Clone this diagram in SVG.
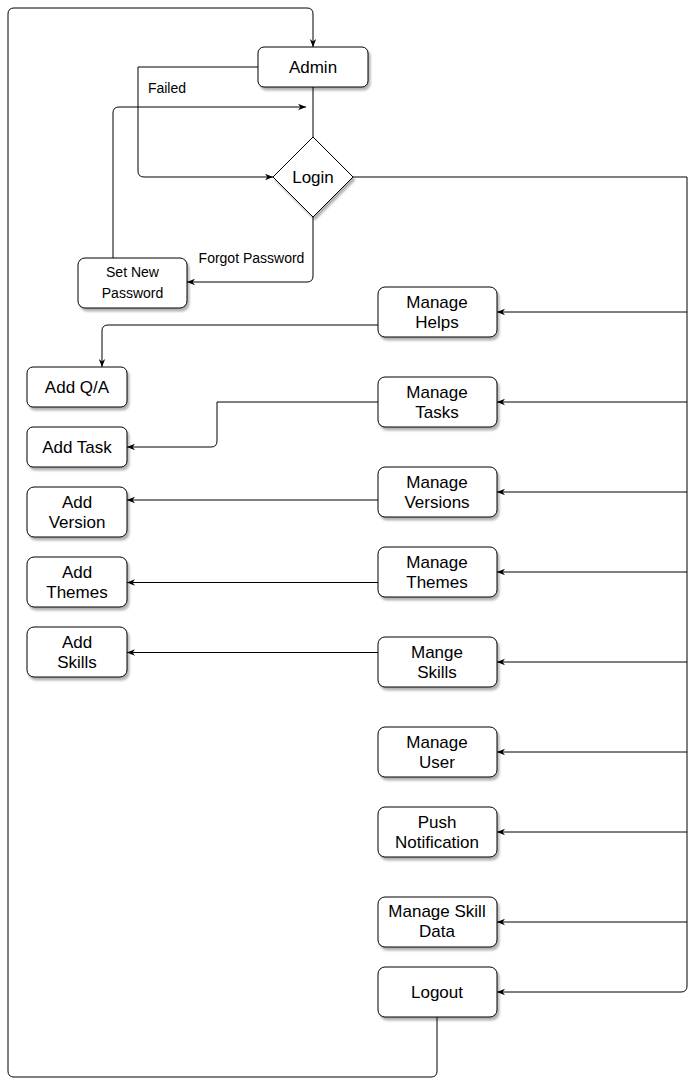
<svg xmlns="http://www.w3.org/2000/svg" width="696" height="1087" viewBox="0 0 696 1087">
<style>
.n{fill:#fff;stroke:#000;stroke-width:1;filter:url(#sh)}
.t{font-family:"Liberation Sans",Arial,sans-serif;font-size:17px;fill:#000;text-anchor:middle}
.l{font-family:"Liberation Sans",Arial,sans-serif;font-size:14px;fill:#000;text-anchor:middle}
.c{fill:none;stroke:#000;stroke-width:1}
.a{marker-end:url(#arr)}
</style>
<defs>
<filter id="sh" x="-10%" y="-10%" width="130%" height="140%">
<feDropShadow dx="2" dy="3" stdDeviation="1" flood-color="#000" flood-opacity="0.3"/>
</filter>
<marker id="arr" viewBox="0 0 10 10" refX="10" refY="5" markerWidth="8" markerHeight="8" markerUnits="userSpaceOnUse" orient="auto">
<path d="M0,1 L10,5 L0,9 L3,5 z" fill="#000"/>
</marker>
</defs>
<rect width="696" height="1087" fill="#fff"/>
<g id="connectors">
<path class="c a" d="M437,1017 V1071 Q437,1077 431,1077 H14 Q8,1077 8,1071 V14 Q8,8 14,8 H307 Q313,8 313,14 V47"/>
<path class="c" d="M313,87 V137"/>
<path class="c a" d="M258,67 H138 V171 Q138,177 144,177 H273"/>
<path class="c a" d="M113,258 V113 Q113,107 119,107 H306"/>
<path class="c a" d="M313,217 V276 Q313,282 307,282 H187"/>
<path class="c a" d="M353,177 H687 V986 Q687,992 681,992 H497"/>
<path class="c a" d="M687,312 H497"/>
<path class="c a" d="M687,402 H497"/>
<path class="c a" d="M687,492 H497"/>
<path class="c a" d="M687,572 H497"/>
<path class="c a" d="M687,662 H497"/>
<path class="c a" d="M687,752 H497"/>
<path class="c a" d="M687,832 H497"/>
<path class="c a" d="M687,922 H497"/>
<path class="c a" d="M378,325 H108 Q102,325 102,331 V367"/>
<path class="c a" d="M378,402 H217 V441 Q217,447 211,447 H127"/>
<path class="c a" d="M378,500 H127"/>
<path class="c a" d="M378,582.5 H127"/>
<path class="c a" d="M378,652.5 H127"/>
<text class="l" x="167" y="93">Failed</text>
<text class="l" x="251.5" y="263">Forgot Password</text>
</g>
<g id="admin"><rect class="n" x="258" y="47" width="110" height="40" rx="6"/><text class="t" x="313" y="73">Admin</text></g>
<g id="login"><polygon class="n" points="313,137 353,177 313,217 273,177"/><text class="t" x="313" y="183">Login</text></g>
<g id="setnew"><rect class="n" x="78" y="258" width="109" height="50" rx="7"/><text class="l" x="132.5" y="277">Set New</text><text class="l" x="132.5" y="298">Password</text></g>
<g id="managehelps"><rect class="n" x="378" y="287" width="119" height="50" rx="7"/><text class="t" x="437" y="307.5">Manage</text><text class="t" x="437" y="328">Helps</text></g>
<g id="managetasks"><rect class="n" x="378" y="377" width="119" height="50" rx="7"/><text class="t" x="437" y="397.5">Manage</text><text class="t" x="437" y="418">Tasks</text></g>
<g id="manageversions"><rect class="n" x="378" y="467" width="119" height="50" rx="7"/><text class="t" x="437" y="487.5">Manage</text><text class="t" x="437" y="508">Versions</text></g>
<g id="managethemes"><rect class="n" x="378" y="547" width="119" height="50" rx="7"/><text class="t" x="437" y="567.5">Manage</text><text class="t" x="437" y="588">Themes</text></g>
<g id="mangeskills"><rect class="n" x="378" y="637" width="119" height="50" rx="7"/><text class="t" x="437" y="657.5">Mange</text><text class="t" x="437" y="678">Skills</text></g>
<g id="manageuser"><rect class="n" x="378" y="727" width="119" height="50" rx="7"/><text class="t" x="437" y="747.5">Manage</text><text class="t" x="437" y="768">User</text></g>
<g id="push"><rect class="n" x="378" y="807" width="119" height="50" rx="7"/><text class="t" x="437" y="827.5">Push</text><text class="t" x="437" y="848">Notification</text></g>
<g id="skilldata"><rect class="n" x="378" y="897" width="119" height="50" rx="7"/><text class="t" x="437" y="917">Manage Skill</text><text class="t" x="437" y="937">Data</text></g>
<g id="logout"><rect class="n" x="378" y="967" width="119" height="50" rx="7"/><text class="t" x="437" y="998">Logout</text></g>
<g id="addqa"><rect class="n" x="27" y="367" width="100" height="40" rx="6"/><text class="t" x="77" y="393">Add Q/A</text></g>
<g id="addtask"><rect class="n" x="27" y="427" width="100" height="40" rx="6"/><text class="t" x="77" y="453">Add Task</text></g>
<g id="addversion"><rect class="n" x="27" y="487" width="100" height="50" rx="7"/><text class="t" x="77" y="507.5">Add</text><text class="t" x="77" y="528">Version</text></g>
<g id="addthemes"><rect class="n" x="27" y="557" width="100" height="50" rx="7"/><text class="t" x="77" y="577.5">Add</text><text class="t" x="77" y="598">Themes</text></g>
<g id="addskills"><rect class="n" x="27" y="627" width="100" height="50" rx="7"/><text class="t" x="77" y="647.5">Add</text><text class="t" x="77" y="668">Skills</text></g>
</svg>
